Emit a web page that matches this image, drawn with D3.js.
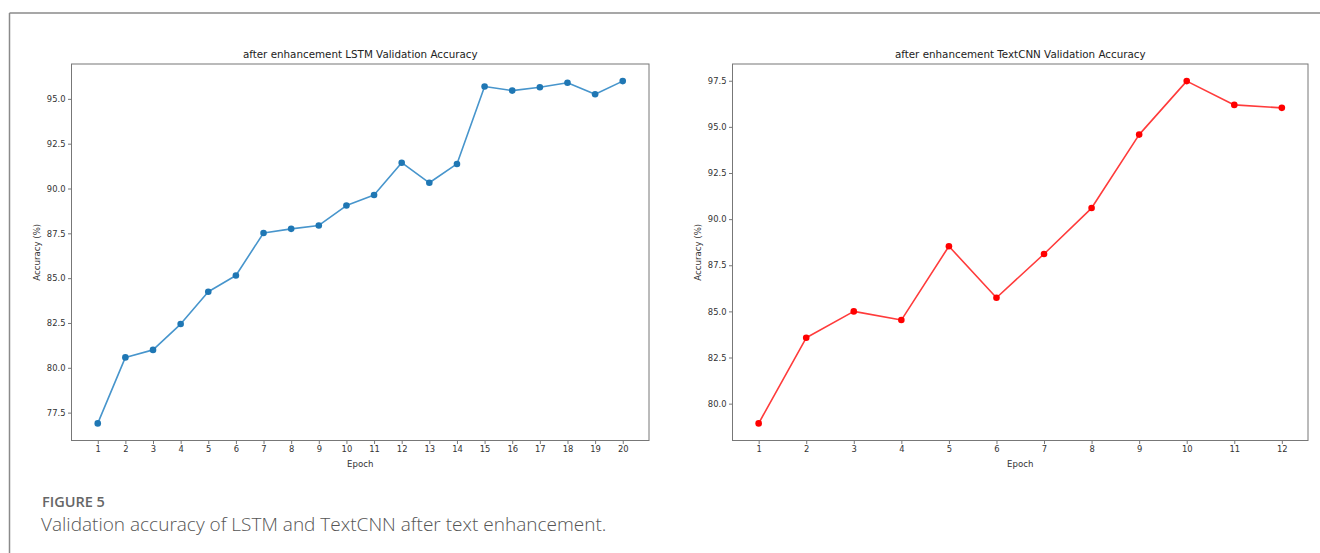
<!DOCTYPE html>
<html>
<head>
<meta charset="utf-8">
<script src="https://cdn.jsdelivr.net/npm/d3@7"></script>
<style>
  html, body { margin: 0; padding: 0; background: #fff; }
  svg { display: block; }
</style>
</head>
<body>
<svg id="chart" width="1320" height="553"></svg>
<script>
// ---- data ----
const lstmEpochs = [1,2,3,4,5,6,7,8,9,10,11,12,13,14,15,16,17,18,19,20];
const lstmAccuracy = [76.9,80.58,81.0,82.44,84.24,85.15,87.52,87.75,87.94,89.05,89.64,91.44,90.32,91.37,95.69,95.46,95.65,95.9,95.26,95.99];
const cnnEpochs = [1,2,3,4,5,6,7,8,9,10,11,12];
const cnnAccuracy = [78.93,83.57,85.0,84.53,88.53,85.74,88.11,90.6,94.58,97.48,96.19,96.03];
const lstmYTicks = [77.5,80.0,82.5,85.0,87.5,90.0,92.5,95.0];
const cnnYTicks = [80.0,82.5,85.0,87.5,90.0,92.5,95.0,97.5];
const titles = ["after enhancement LSTM Validation Accuracy", "after enhancement TextCNN Validation Accuracy"];
const xLabel = "Epoch";
const yLabel = "Accuracy (%)";
const figureLabel = "FIGURE 5";
const captionText = "Validation accuracy of LSTM and TextCNN after text enhancement.";

const svg = d3.select("#chart");

// outer card border (top and left)
svg.append("line").attr("x1", 9.5).attr("x2", 1320).attr("y1", 13).attr("y2", 13)
  .attr("stroke", "#8a8a8a").attr("stroke-width", 1.5);
svg.append("line").attr("x1", 9.5).attr("x2", 9.5).attr("y1", 13).attr("y2", 553)
  .attr("stroke", "#8a8a8a").attr("stroke-width", 1.5);

function fitText(sel, targetWidth) {
  const w = sel.node().getComputedTextLength();
  const fs = parseFloat(sel.attr("font-size"));
  sel.attr("font-size", fs * targetWidth / w);
}

function pad(ext) {
  const r = ext[1] - ext[0];
  return [ext[0] - 0.05 * r, ext[1] + 0.05 * r];
}

function drawChart(opts) {
  const {left, right, top, bottom, xs, ys, yTicks, title, titleW, color, lineColor} = opts;
  const x = d3.scaleLinear().domain(pad(d3.extent(xs))).range([left, right]);
  const y = d3.scaleLinear().domain(pad(d3.extent(ys))).range([bottom, top]);
  const g = svg.append("g").attr("font-family", "DejaVu Sans").attr("fill", "#333");

  // axes
  const xAxis = d3.axisBottom(x).tickValues(xs).tickFormat(d3.format("d")).tickSize(3.5).tickPadding(2.5);
  const yAxis = d3.axisLeft(y).tickValues(yTicks).tickFormat(d3.format(".1f")).tickSize(3.5).tickPadding(2.5);
  const gx = g.append("g").attr("transform", `translate(0,${bottom})`).call(xAxis);
  const gy = g.append("g").attr("transform", `translate(${left},0)`).call(yAxis);
  [gx, gy].forEach(a => {
    a.select(".domain").remove();
    a.selectAll(".tick line").attr("stroke", "#555").attr("stroke-width", 0.8);
    a.selectAll(".tick text").attr("fill", "#333").attr("font-size", 8.4).attr("font-family", "DejaVu Sans");
  });

  // frame
  g.append("rect").attr("x", left).attr("y", top).attr("width", right - left).attr("height", bottom - top)
    .attr("fill", "none").attr("stroke", "#777").attr("stroke-width", 1);

  // title
  const t = g.append("text").attr("x", (left + right) / 2).attr("y", top - 6)
    .attr("text-anchor", "middle").attr("font-size", 10).attr("fill", "#222").text(title);
  fitText(t, titleW);

  // labels
  g.append("text").attr("x", (left + right) / 2).attr("y", bottom + 26)
    .attr("text-anchor", "middle").attr("font-size", 8.6).attr("fill", "#333").text(xLabel);
  g.append("text").attr("transform", `translate(${left - 32},${(top + bottom) / 2}) rotate(-90)`)
    .attr("text-anchor", "middle").attr("font-size", 8.6).attr("fill", "#333").text(yLabel);

  // line
  const data = xs.map((d, i) => [d, ys[i]]);
  g.append("path").datum(data)
    .attr("fill", "none").attr("stroke", lineColor).attr("stroke-width", 1.6)
    .attr("stroke-linejoin", "round")
    .attr("d", d3.line().x(d => x(d[0])).y(d => y(d[1])));
  g.selectAll("circle.pt").data(data).enter().append("circle")
    .attr("class", "pt")
    .attr("cx", d => x(d[0])).attr("cy", d => y(d[1])).attr("r", 3.3)
    .attr("fill", color);
}

drawChart({left: 71.5, right: 649, top: 64, bottom: 440.5, xs: lstmEpochs, ys: lstmAccuracy,
  yTicks: lstmYTicks, title: titles[0], titleW: 235, color: "#1f77b4", lineColor: "#4795cc"});
drawChart({left: 732.5, right: 1308, top: 64, bottom: 440.5, xs: cnnEpochs, ys: cnnAccuracy,
  yTicks: cnnYTicks, title: titles[1], titleW: 251, color: "#ff0000", lineColor: "#ff3b3b"});

// caption
const fig = svg.append("text").attr("x", 42).attr("y", 507).attr("font-family", "Open Sans")
  .attr("font-weight", 600).attr("font-size", 14).attr("fill", "#666").text(figureLabel);
fitText(fig, 63);
const cap = svg.append("text").attr("x", 41).attr("y", 531).attr("font-family", "Open Sans")
  .attr("font-weight", 300).attr("font-size", 17).attr("fill", "#555").text(captionText);
fitText(cap, 566);
</script>
</body>
</html>
